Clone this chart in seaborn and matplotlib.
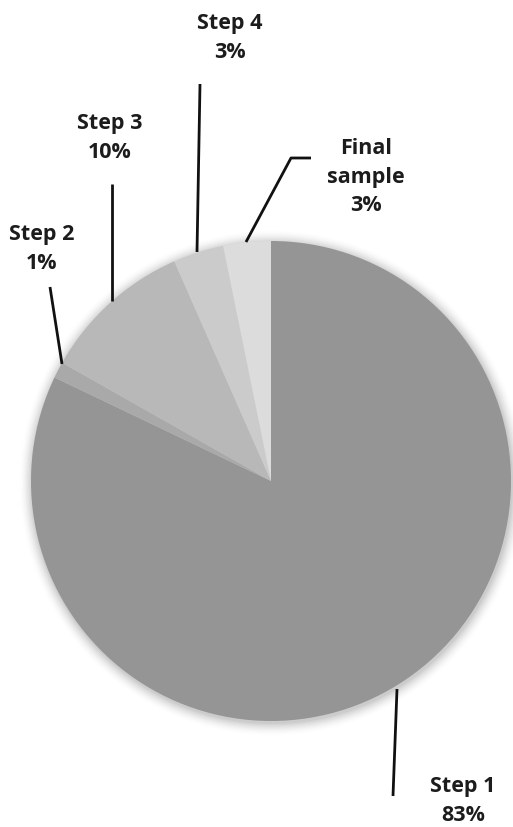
import matplotlib
matplotlib.use("Agg")
import matplotlib.pyplot as plt
import seaborn as sns
import numpy as np

categories = ["Step 1", "Step 2", "Step 3", "Step 4", "Final\nsample"]
values = [82.1, 1.1, 10.2, 3.4, 3.2]
pct_labels = ["83%", "1%", "10%", "3%", "3%"]
colors = ["#959595", "#a9a9a9", "#b8b8b8", "#cbcbcb", "#dcdcdc"]

sns.set_theme(style="white")
plt.rcParams["font.family"] = ["Open Sans", "DejaVu Sans"]

W, H = 513, 828
fig = plt.figure(figsize=(W / 100, H / 100), dpi=100)
ax = fig.add_axes([0, 0, 1, 1])
ax.set_xlim(0, W)
ax.set_ylim(0, H)
ax.set_aspect("equal")
ax.axis("off")

cx, cy, r = 271, H - 482, 240

# soft shadow
for i, a in enumerate(np.linspace(0.035, 0.005, 10)):
    ax.add_patch(plt.Circle((cx + 1, cy - 2), r + 1 + i * 1.3, color="black", alpha=a, lw=0, zorder=0))

ax.pie(values, colors=colors, startangle=90, counterclock=False,
       center=(cx, cy), radius=r, frame=True,
       wedgeprops=dict(linewidth=0, zorder=2))
ax.set_xlim(0, W)
ax.set_ylim(0, H)
ax.axis("off")

def Y(y):
    return H - y

lw = 2.0
# leader lines (image pixel coords)
lines = [
    [(397, 690), (393, 797)],
    [(50, 288), (62, 365)],
    [(112, 185), (112, 302)],
    [(200, 85), (197, 253)],
    [(246, 243), (291, 159), (311, 159)],
]
for pts in lines:
    xs = [p[0] for p in pts]
    ys = [Y(p[1]) for p in pts]
    ax.plot(xs, ys, color="#111111", lw=lw, solid_capstyle="butt", zorder=3)

label_pos = [(463, 801), (42, 249), (110, 138), (230, 38), (366, 177)]
for cat, pct, (x, y) in zip(categories, pct_labels, label_pos):
    ax.text(x, Y(y), cat + "\n" + pct, ha="center", va="center",
            fontsize=15.5, fontweight="bold", color="#1c1c1c",
            linespacing=1.45, zorder=4)

fig.savefig("out.png", dpi=100, facecolor="white")
